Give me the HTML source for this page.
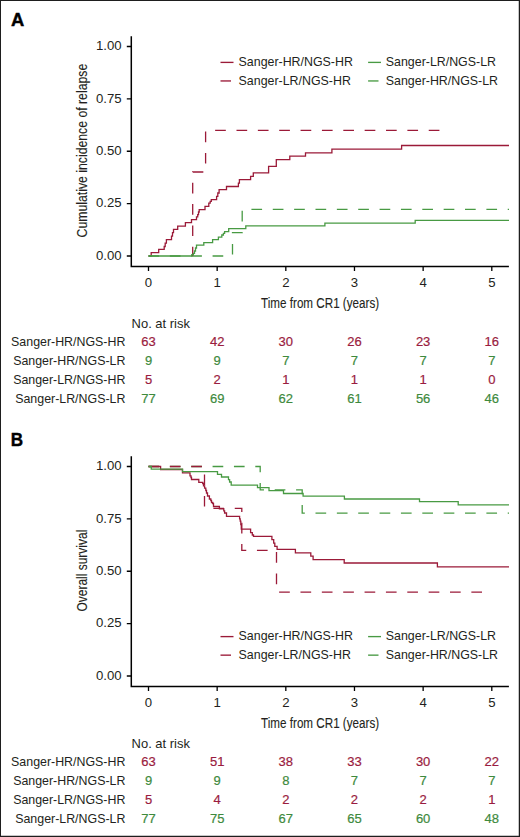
<!DOCTYPE html>
<html><head><meta charset="utf-8"><style>
html,body{margin:0;padding:0;background:#fff;width:520px;height:837px;overflow:hidden}
svg{display:block}
.t{font-family:"Liberation Sans",sans-serif;font-size:12.4px;fill:#231f20}
.tn{font-family:"Liberation Sans",sans-serif;font-size:13.2px;fill:#231f20}
.tr{font-family:"Liberation Sans",sans-serif;font-size:13px;stroke-width:0.2px}
.ti{font-family:"Liberation Sans",sans-serif;font-size:15.5px;fill:#231f20;stroke:#231f20;stroke-width:0.12px}
.lab{font-family:"Liberation Sans",sans-serif;font-size:18px;font-weight:bold;fill:#000;stroke:#000;stroke-width:0.4px}
</style></head><body>
<svg width="520" height="837" viewBox="0 0 520 837">
<rect width="520" height="837" fill="#fff"/>
<path d="M0,0H520V837H0Z M1,1V835.7H518.75V1Z" fill="#1e1e1e" fill-rule="evenodd"/>
<text transform="translate(11.0,25.8) scale(1.02,1)" class="lab">A</text>
<text transform="translate(10.8,446) scale(0.95,1)" class="lab">B</text>
<path d="M131.3,36.25V266.4H508.9" fill="none" stroke="#000" stroke-width="1.5"/>
<path d="M126.8,46.50H131.3 M126.8,98.88H131.3 M126.8,151.25H131.3 M126.8,203.62H131.3 M126.8,256.00H131.3 M148.50,266.4V271 M217.16,266.4V271 M285.82,266.4V271 M354.48,266.4V271 M423.14,266.4V271 M491.80,266.4V271" stroke="#000" stroke-width="1.3" fill="none"/>
<text x="121.6" y="50.25" text-anchor="end" class="tn">1.00</text>
<text x="121.6" y="102.62" text-anchor="end" class="tn">0.75</text>
<text x="121.6" y="155.00" text-anchor="end" class="tn">0.50</text>
<text x="121.6" y="207.38" text-anchor="end" class="tn">0.25</text>
<text x="121.6" y="259.75" text-anchor="end" class="tn">0.00</text>
<text x="148.50" y="286.7" text-anchor="middle" class="tn">0</text>
<text x="217.16" y="286.7" text-anchor="middle" class="tn">1</text>
<text x="285.82" y="286.7" text-anchor="middle" class="tn">2</text>
<text x="354.48" y="286.7" text-anchor="middle" class="tn">3</text>
<text x="423.14" y="286.7" text-anchor="middle" class="tn">4</text>
<text x="491.80" y="286.7" text-anchor="middle" class="tn">5</text>
<text x="320.1" y="307.8" text-anchor="middle" class="ti" textLength="118" lengthAdjust="spacingAndGlyphs">Time from CR1 (years)</text>
<text transform="translate(87.1,150.60) rotate(-90)" x="0" y="0" text-anchor="middle" class="ti" textLength="173.6" lengthAdjust="spacingAndGlyphs">Cumulative incidence of relapse</text>
<path d="M148.5,256H151.2V252.7H158.7V249.4H164.2V246.5H165.2V243.1H166.4V239.6H171.5V236.2H172.5V232.7H173.5V229.4H177.7V226.2H185.4V222.7H191.5V219.6H196.5V216.9H197.7V214.6H198.5V212H199.2V209.6H205V206.3H208.8V203.1H210.2V201.4H211.3V199.7H216.6V196.4H217.8V193H219.1V189.6H226.5V186.5H238.4V183.2H239.4V179.6H250.6V176.3H253.3V172.9H268.6V166.3H276.3V159.6H289.8V156.2H305.5V152.8H331.9V149.2H401.6V145.5H509" fill="none" stroke="#9b1a38" stroke-width="1.3"/>
<path d="M148.5,256H232.5V232.7H242.2V209.4H509" fill="none" stroke="#489a43" stroke-width="1.3" stroke-dasharray="10.68 10.68" stroke-dashoffset="0"/>
<path d="M192.7,256V172H205.6V130.4H440.3" fill="none" stroke="#9b1a38" stroke-width="1.3" stroke-dasharray="10.68 10.68" stroke-dashoffset="44.2"/>
<path d="M148.5,256H191.8V254.6H193.4V253.3H194.5V251H195.5V248H196.5V245.1H203.8V242.6H212.6V239.6H218.4V237.2H221.8V235H223.4V233.4H224.6V231.6H228.7V228.7H245.8V225.9H324.9V223.1H415.2V220.3H509" fill="none" stroke="#489a43" stroke-width="1.3"/>
<path d="M220.5,62.4H233.5" stroke="#9b1a38" stroke-width="1.35"/>
<path d="M220.5,80.95H231" stroke="#9b1a38" stroke-width="1.35"/>
<path d="M368.1,62.4H381" stroke="#489a43" stroke-width="1.35"/>
<path d="M368.1,80.95H378.5" stroke="#489a43" stroke-width="1.35"/>
<text x="238.6" y="65.80" class="t">Sanger-HR/NGS-HR</text>
<text x="238.6" y="84.60" class="t">Sanger-LR/NGS-HR</text>
<text x="385.8" y="65.80" class="t">Sanger-LR/NGS-LR</text>
<text x="385.8" y="84.60" class="t">Sanger-HR/NGS-LR</text>
<text x="131.6" y="327.6" class="t" textLength="58.3" lengthAdjust="spacingAndGlyphs">No. at risk</text>
<text x="125.4" y="346.40" text-anchor="end" class="t">Sanger-HR/NGS-HR</text>
<text x="148.50" y="346.40" text-anchor="middle" class="tr" style="fill:#9a1c40;stroke:#9a1c40">63</text>
<text x="217.16" y="346.40" text-anchor="middle" class="tr" style="fill:#9a1c40;stroke:#9a1c40">42</text>
<text x="285.82" y="346.40" text-anchor="middle" class="tr" style="fill:#9a1c40;stroke:#9a1c40">30</text>
<text x="354.48" y="346.40" text-anchor="middle" class="tr" style="fill:#9a1c40;stroke:#9a1c40">26</text>
<text x="423.14" y="346.40" text-anchor="middle" class="tr" style="fill:#9a1c40;stroke:#9a1c40">23</text>
<text x="491.80" y="346.40" text-anchor="middle" class="tr" style="fill:#9a1c40;stroke:#9a1c40">16</text>
<text x="125.4" y="365.17" text-anchor="end" class="t">Sanger-HR/NGS-LR</text>
<text x="148.50" y="365.17" text-anchor="middle" class="tr" style="fill:#3e8a3d;stroke:#3e8a3d">9</text>
<text x="217.16" y="365.17" text-anchor="middle" class="tr" style="fill:#3e8a3d;stroke:#3e8a3d">9</text>
<text x="285.82" y="365.17" text-anchor="middle" class="tr" style="fill:#3e8a3d;stroke:#3e8a3d">7</text>
<text x="354.48" y="365.17" text-anchor="middle" class="tr" style="fill:#3e8a3d;stroke:#3e8a3d">7</text>
<text x="423.14" y="365.17" text-anchor="middle" class="tr" style="fill:#3e8a3d;stroke:#3e8a3d">7</text>
<text x="491.80" y="365.17" text-anchor="middle" class="tr" style="fill:#3e8a3d;stroke:#3e8a3d">7</text>
<text x="125.4" y="383.94" text-anchor="end" class="t">Sanger-LR/NGS-HR</text>
<text x="148.50" y="383.94" text-anchor="middle" class="tr" style="fill:#9a1c40;stroke:#9a1c40">5</text>
<text x="217.16" y="383.94" text-anchor="middle" class="tr" style="fill:#9a1c40;stroke:#9a1c40">2</text>
<text x="285.82" y="383.94" text-anchor="middle" class="tr" style="fill:#9a1c40;stroke:#9a1c40">1</text>
<text x="354.48" y="383.94" text-anchor="middle" class="tr" style="fill:#9a1c40;stroke:#9a1c40">1</text>
<text x="423.14" y="383.94" text-anchor="middle" class="tr" style="fill:#9a1c40;stroke:#9a1c40">1</text>
<text x="491.80" y="383.94" text-anchor="middle" class="tr" style="fill:#9a1c40;stroke:#9a1c40">0</text>
<text x="125.4" y="402.71" text-anchor="end" class="t">Sanger-LR/NGS-LR</text>
<text x="148.50" y="402.71" text-anchor="middle" class="tr" style="fill:#3e8a3d;stroke:#3e8a3d">77</text>
<text x="217.16" y="402.71" text-anchor="middle" class="tr" style="fill:#3e8a3d;stroke:#3e8a3d">69</text>
<text x="285.82" y="402.71" text-anchor="middle" class="tr" style="fill:#3e8a3d;stroke:#3e8a3d">62</text>
<text x="354.48" y="402.71" text-anchor="middle" class="tr" style="fill:#3e8a3d;stroke:#3e8a3d">61</text>
<text x="423.14" y="402.71" text-anchor="middle" class="tr" style="fill:#3e8a3d;stroke:#3e8a3d">56</text>
<text x="491.80" y="402.71" text-anchor="middle" class="tr" style="fill:#3e8a3d;stroke:#3e8a3d">46</text>
<path d="M131.3,456.25V686.4H508.9" fill="none" stroke="#000" stroke-width="1.5"/>
<path d="M126.8,466.50H131.3 M126.8,518.88H131.3 M126.8,571.25H131.3 M126.8,623.62H131.3 M126.8,676.00H131.3 M148.50,686.4V691 M217.16,686.4V691 M285.82,686.4V691 M354.48,686.4V691 M423.14,686.4V691 M491.80,686.4V691" stroke="#000" stroke-width="1.3" fill="none"/>
<text x="121.6" y="470.25" text-anchor="end" class="tn">1.00</text>
<text x="121.6" y="522.62" text-anchor="end" class="tn">0.75</text>
<text x="121.6" y="575.00" text-anchor="end" class="tn">0.50</text>
<text x="121.6" y="627.38" text-anchor="end" class="tn">0.25</text>
<text x="121.6" y="679.75" text-anchor="end" class="tn">0.00</text>
<text x="148.50" y="706.7" text-anchor="middle" class="tn">0</text>
<text x="217.16" y="706.7" text-anchor="middle" class="tn">1</text>
<text x="285.82" y="706.7" text-anchor="middle" class="tn">2</text>
<text x="354.48" y="706.7" text-anchor="middle" class="tn">3</text>
<text x="423.14" y="706.7" text-anchor="middle" class="tn">4</text>
<text x="491.80" y="706.7" text-anchor="middle" class="tn">5</text>
<text x="320.1" y="727.8" text-anchor="middle" class="ti" textLength="118" lengthAdjust="spacingAndGlyphs">Time from CR1 (years)</text>
<text transform="translate(87.1,570.60) rotate(-90)" x="0" y="0" text-anchor="middle" class="ti" textLength="81.8" lengthAdjust="spacingAndGlyphs">Overall survival</text>
<path d="M148.5,466.5H160.6V469.5H182.5V472.8H190V475.8H191V477.5H191.5V479.5H198.8V482.4H202.7V483.5H203.5V485.8H204.6V488.2H205.8V490.5H206.5V493H207.5V496H209.4V499H210.8V500.5H211.5V502.5H212.7V503.5H213.5V506.5H219.4V508.9H223.8V510.8H224.6V513H226.5V516.3H239.6V518.8H240.2V521.2H240.8V524.6H241.3V529.2H250.6V532.7H252.3V535H253.5V536.4H271.9V539.6H273.7V543.1H274.8V546.3H277.1V549.3H295.4V552.8H310.8V556.2H313.1V559.6H344.2V563H437.4V566.8H509" fill="none" stroke="#9b1a38" stroke-width="1.3"/>
<path d="M148.5,466.5H260.2V489.8H302.2V513.1H509" fill="none" stroke="#489a43" stroke-width="1.3" stroke-dasharray="10.68 10.68" stroke-dashoffset="0"/>
<path d="M148.5,466.5H204.5V508.4H241.8V550.3H276.5V592.2H482.8" fill="none" stroke="#9b1a38" stroke-width="1.3" stroke-dasharray="10.68 10.68" stroke-dashoffset="0"/>
<path d="M148.5,466.5H151.25V469.1H182.5V471.6H217.5V474.3H221.5V477H228.5V479.7H229.6V482H231.2V485.1H257.5V487.7H269V490.6H283.5V493.5H303.1V496.1H344.4V499H419.5V501.7H458.2V504.8H509" fill="none" stroke="#489a43" stroke-width="1.3"/>
<path d="M220.5,636.6H233.5" stroke="#9b1a38" stroke-width="1.35"/>
<path d="M220.5,655.1500000000001H231" stroke="#9b1a38" stroke-width="1.35"/>
<path d="M368.1,636.6H381" stroke="#489a43" stroke-width="1.35"/>
<path d="M368.1,655.1500000000001H378.5" stroke="#489a43" stroke-width="1.35"/>
<text x="238.6" y="640.00" class="t">Sanger-HR/NGS-HR</text>
<text x="238.6" y="658.80" class="t">Sanger-LR/NGS-HR</text>
<text x="385.8" y="640.00" class="t">Sanger-LR/NGS-LR</text>
<text x="385.8" y="658.80" class="t">Sanger-HR/NGS-LR</text>
<text x="131.6" y="747.6" class="t" textLength="58.3" lengthAdjust="spacingAndGlyphs">No. at risk</text>
<text x="125.4" y="766.40" text-anchor="end" class="t">Sanger-HR/NGS-HR</text>
<text x="148.50" y="766.40" text-anchor="middle" class="tr" style="fill:#9a1c40;stroke:#9a1c40">63</text>
<text x="217.16" y="766.40" text-anchor="middle" class="tr" style="fill:#9a1c40;stroke:#9a1c40">51</text>
<text x="285.82" y="766.40" text-anchor="middle" class="tr" style="fill:#9a1c40;stroke:#9a1c40">38</text>
<text x="354.48" y="766.40" text-anchor="middle" class="tr" style="fill:#9a1c40;stroke:#9a1c40">33</text>
<text x="423.14" y="766.40" text-anchor="middle" class="tr" style="fill:#9a1c40;stroke:#9a1c40">30</text>
<text x="491.80" y="766.40" text-anchor="middle" class="tr" style="fill:#9a1c40;stroke:#9a1c40">22</text>
<text x="125.4" y="785.17" text-anchor="end" class="t">Sanger-HR/NGS-LR</text>
<text x="148.50" y="785.17" text-anchor="middle" class="tr" style="fill:#3e8a3d;stroke:#3e8a3d">9</text>
<text x="217.16" y="785.17" text-anchor="middle" class="tr" style="fill:#3e8a3d;stroke:#3e8a3d">9</text>
<text x="285.82" y="785.17" text-anchor="middle" class="tr" style="fill:#3e8a3d;stroke:#3e8a3d">8</text>
<text x="354.48" y="785.17" text-anchor="middle" class="tr" style="fill:#3e8a3d;stroke:#3e8a3d">7</text>
<text x="423.14" y="785.17" text-anchor="middle" class="tr" style="fill:#3e8a3d;stroke:#3e8a3d">7</text>
<text x="491.80" y="785.17" text-anchor="middle" class="tr" style="fill:#3e8a3d;stroke:#3e8a3d">7</text>
<text x="125.4" y="803.94" text-anchor="end" class="t">Sanger-LR/NGS-HR</text>
<text x="148.50" y="803.94" text-anchor="middle" class="tr" style="fill:#9a1c40;stroke:#9a1c40">5</text>
<text x="217.16" y="803.94" text-anchor="middle" class="tr" style="fill:#9a1c40;stroke:#9a1c40">4</text>
<text x="285.82" y="803.94" text-anchor="middle" class="tr" style="fill:#9a1c40;stroke:#9a1c40">2</text>
<text x="354.48" y="803.94" text-anchor="middle" class="tr" style="fill:#9a1c40;stroke:#9a1c40">2</text>
<text x="423.14" y="803.94" text-anchor="middle" class="tr" style="fill:#9a1c40;stroke:#9a1c40">2</text>
<text x="491.80" y="803.94" text-anchor="middle" class="tr" style="fill:#9a1c40;stroke:#9a1c40">1</text>
<text x="125.4" y="822.71" text-anchor="end" class="t">Sanger-LR/NGS-LR</text>
<text x="148.50" y="822.71" text-anchor="middle" class="tr" style="fill:#3e8a3d;stroke:#3e8a3d">77</text>
<text x="217.16" y="822.71" text-anchor="middle" class="tr" style="fill:#3e8a3d;stroke:#3e8a3d">75</text>
<text x="285.82" y="822.71" text-anchor="middle" class="tr" style="fill:#3e8a3d;stroke:#3e8a3d">67</text>
<text x="354.48" y="822.71" text-anchor="middle" class="tr" style="fill:#3e8a3d;stroke:#3e8a3d">65</text>
<text x="423.14" y="822.71" text-anchor="middle" class="tr" style="fill:#3e8a3d;stroke:#3e8a3d">60</text>
<text x="491.80" y="822.71" text-anchor="middle" class="tr" style="fill:#3e8a3d;stroke:#3e8a3d">48</text>
</svg>
</body></html>
